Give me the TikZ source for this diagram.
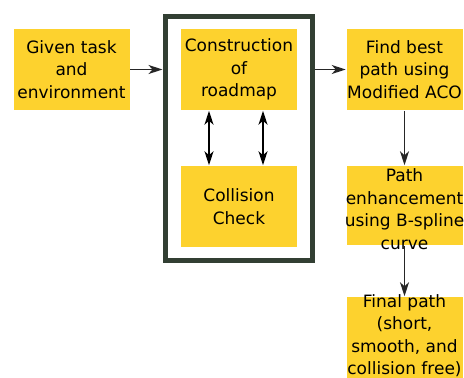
\documentclass[tikz,border=0pt]{standalone}
\usepackage{fontspec}
\setmainfont{DejaVu Sans}
\usetikzlibrary{arrows.meta}
\definecolor{boxyellow}{HTML}{FDD22E}
\definecolor{framegreen}{HTML}{323F33}

\begin{document}
\begin{tikzpicture}[x=1pt,y=-1pt,>={Stealth[length=14pt,width=9pt,inset=4pt]},line width=1.5pt]
    \tikzstyle{block}=[fill=boxyellow,minimum width=116pt,minimum height=81pt,inner sep=0pt,align=center,font=\fontsize{17}{22.5}\selectfont]
    \tikzstyle{label}=[align=center,inner sep=0pt,font=\fontsize{17}{22.5}\selectfont]
    \tikzstyle{link}=[->,draw=black!85]
    \useasboundingbox (0,0) rectangle (464,378);

    \node[draw=framegreen,line width=5pt,minimum width=147.5pt,minimum height=244pt,inner sep=0pt] (frame) at (238.75,138) {};

    \node[block] (given) at (71.5,69.5) {Given task\\and\\environment};
    \node[block] (road) at (239,69.5) {Construction\\of\\roadmap};
    \node[block] (coll) at (239,206.5) {Collision\\Check};
    \node[block] (find) at (404.5,69.5) {Find best\\path using\\Modified ACO};
    \node[block,minimum height=79pt] (enh) at (404.5,205.5) {};
    \node[label] (enhtext) at (404.5,209) {Path\\enhancement\\using B-spline\\curve};
    \node[block] (final) at (404.5,337.5) {};
    \node[label] (finaltext) at (404.5,335.5) {Final path\\(short,\\smooth, and\\collision free)};

    \draw[link] (given.east) -- (given.east -| frame.west);
    \draw[link] (frame.east |- find.west) -- (find.west);
    \foreach \dx in {-30,24}
        \draw[<->,draw=black] ([xshift=\dx]road.south) -- ([xshift=\dx]coll.north);
    \draw[link] (find) -- (enh);
    \draw[link] (enh) -- (final);
\end{tikzpicture}
\end{document}
